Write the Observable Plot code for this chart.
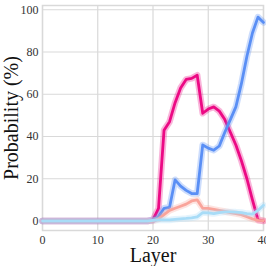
<!DOCTYPE html>
<html>
<head>
<meta charset="utf-8">
<script src="https://cdn.jsdelivr.net/npm/d3@7"></script>
<script src="https://cdn.jsdelivr.net/npm/@observablehq/plot@0.6"></script>
</head>
<body style="margin:0">
<div id="chart"></div>
<script>
const layers = d3.range(0, 41);
const zeros20 = [0,0,0,0,0,0,0,0,0,0,0,0,0,0,0,0,0,0,0,0];
// values for layers 20..40
const magenta   = zeros20.concat([0.5, 6, 43, 47, 56, 63, 67, 67.5, 69, 51, 53, 54, 52, 48, 42, 36, 28.5, 20, 10, 0.5, 0]);
const blue      = zeros20.concat([0.5, 2, 6, 6.5, 19.5, 16.5, 14.5, 13, 13, 36, 34.5, 33.5, 35.5, 42, 48, 54, 65, 78, 89, 96.5, 94]);
const salmon    = zeros20.concat([0, 1, 3, 5, 6, 7, 8, 9.5, 10, 6, 6, 5.5, 5, 4.5, 4, 3.5, 3, 2, 1, 0.3, 0.2]);
const lightblue = zeros20.concat([0.3, 0.5, 0.5, 0.5, 0.8, 1, 1.2, 1.5, 2, 4, 3.8, 3.5, 4, 4.3, 4.3, 4.2, 4, 3.5, 3.3, 5, 7.5]);

const seriesNames = ["magenta", "blue", "salmon", "lightblue"];
const seriesValues = {lightblue, salmon, blue, magenta};
const seriesColors = {lightblue: "#a8dcf7", salmon: "#f9a49b", blue: "#5a8ff5", magenta: "#ec0a84"};

const xTicks = [0, 10, 20, 30, 40];
const yTicks = [0, 20, 40, 60, 80, 100];

const data = [];
for (const s of seriesNames) {
  seriesValues[s].forEach((v, i) => data.push({series: s, layer: layers[i], value: v}));
}

const font = "Liberation Serif";
const marks = [
  Plot.gridX(xTicks, {stroke: "#d9d9d9", strokeOpacity: 1, strokeWidth: 1.2}),
  Plot.gridY(yTicks, {stroke: "#d9d9d9", strokeOpacity: 1, strokeWidth: 1.2}),
  Plot.frame({stroke: "#d9d9d9", strokeWidth: 1.5}),
  Plot.axisX(xTicks, {tickSize: 0, tickPadding: 5, fontSize: 12, fontFamily: font, label: null, fill: "#333"}),
  Plot.axisY(yTicks, {tickSize: 0, tickPadding: 4, fontSize: 12, fontFamily: font, label: null, fill: "#333"}),
];
for (const s of seriesNames) {
  const d = data.filter(r => r.series === s);
  marks.push(Plot.line(d, {x: "layer", y: "value", stroke: seriesColors[s], strokeWidth: 6.5, strokeOpacity: 0.3}));
  marks.push(Plot.line(d, {x: "layer", y: "value", stroke: seriesColors[s], strokeWidth: 2.8}));
}
marks.push(Plot.text(["Probability (%)"], {frameAnchor: "left", dx: -31, rotate: -90, textAnchor: "middle", lineAnchor: "middle", fontSize: 20, fontFamily: font, fill: "#111"}));
marks.push(Plot.text(["Layer"], {frameAnchor: "bottom", dy: 25, textAnchor: "middle", lineAnchor: "middle", fontSize: 20, fontFamily: font, fill: "#111"}));

const chart = Plot.plot({
  width: 266,
  height: 266,
  marginLeft: 42,
  marginRight: 3,
  marginTop: 5,
  marginBottom: 36,
  style: {fontFamily: font, overflow: "visible"},
  x: {domain: [0, 40]},
  y: {domain: [-4.5, 102]},
  marks
});
document.getElementById("chart").appendChild(chart);
</script>
</body>
</html>
